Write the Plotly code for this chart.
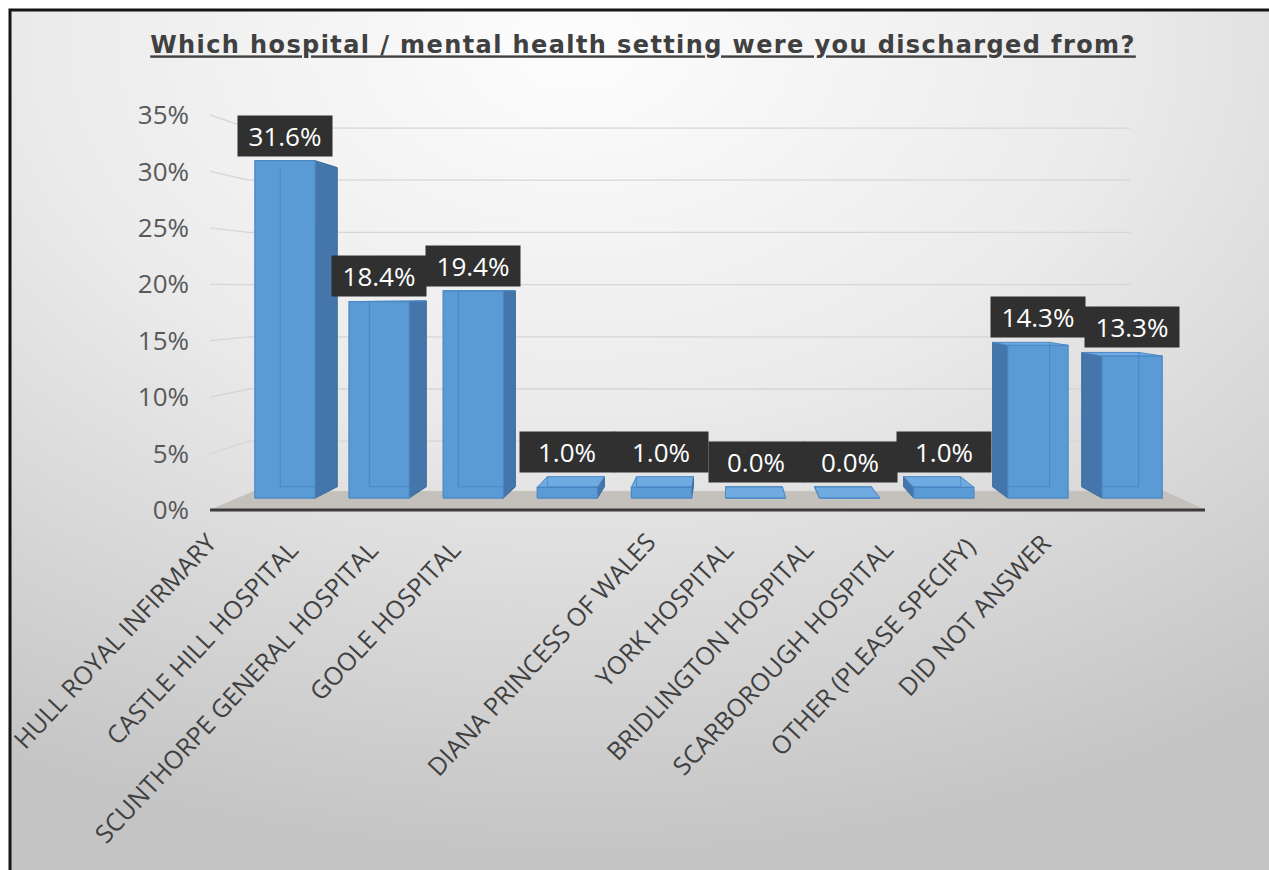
import base64
import plotly.graph_objects as go

# ---------------- data ----------------
categories = [
    "HULL ROYAL INFIRMARY", "CASTLE HILL HOSPITAL", "SCUNTHORPE GENERAL HOSPITAL",
    "GOOLE HOSPITAL", "DIANA PRINCESS OF WALES", "YORK HOSPITAL",
    "BRIDLINGTON HOSPITAL", "SCARBOROUGH HOSPITAL", "OTHER (PLEASE SPECIFY)",
    "DID NOT ANSWER",
]
values = [31.6, 18.4, 19.4, 1.0, 1.0, 0.0, 0.0, 1.0, 14.3, 13.3]
y_ticks = [0, 5, 10, 15, 20, 25, 30, 35]
title_text = "Which hospital / mental health setting were you discharged from?"

# ---------------- layout / style ----------------
W, H = 1269, 870
L, R, T, B = 210, 64, 100, 350
PW, PH = W - L - R, H - T - B
XR = [-0.5, 9.5]
PXU = PW / (XR[1] - XR[0])
PYU = 11.286
YR = [-(H - B - 510) / PYU, (510 - T) / PYU]

# pseudo 3D projection parameters
VX, VY = 4.69, 19.6      # vanishing point (data units)
D1, D2 = 0.054, 0.105    # bar front/back depth
DF = 0.085               # floor depth
DW = 0.075               # back wall depth (gridlines)
GX_END = 8.75            # right end of gridlines
BW = 0.64                # bar width

FRONT = "#5b9bd5"
SIDE = "#4576ab"
TOP = "#6fabe0"
EDGE = "#4a88c6"

# category label end points (pixel positions of the text end, as in the picture)
LABEL_END_PX = [217, 300, 380, 462, 657, 735, 815, 895, 977, 1053]
LABEL_TOP_PX = [533, 540, 540, 540, 533, 540, 540, 540, 537, 533]
LABEL_ANGLE = -47


def proj(x, y, d):
    return x + d * (VX - x), y + d * (VY - y)


fig = go.Figure()


def add_polys(polys, fill, line_color, width=1):
    xs, ys = [], []
    for p in polys:
        for (x, y) in p:
            xs.append(x)
            ys.append(y)
        xs.append(p[0][0]); ys.append(p[0][1])
        xs.append(None); ys.append(None)
    fig.add_trace(go.Scatter(x=xs, y=ys, mode="lines", fill="toself",
                             fillcolor=fill, line=dict(color=line_color, width=width),
                             hoverinfo="skip", showlegend=False))


def add_lines(segs, color, width=1, opacity=1.0):
    xs, ys = [], []
    for s in segs:
        for (x, y) in s:
            xs.append(x); ys.append(y)
        xs.append(None); ys.append(None)
    fig.add_trace(go.Scatter(x=xs, y=ys, mode="lines", opacity=opacity,
                             line=dict(color=color, width=width),
                             hoverinfo="skip", showlegend=False))


# gridlines (front-left -> back wall -> right)
grid = []
for t in y_ticks[1:]:
    bx, by = proj(XR[0], t, DW)
    grid.append([(XR[0], t), (bx, by), (GX_END, by)])
add_lines(grid, "#d6d6d6", 1.3)

# floor
floor = [[proj(XR[0], 0, 0), proj(XR[1], 0, 0), proj(XR[1], 0, DF), proj(XR[0], 0, DF)]]
add_polys(floor, "#c4c0bb", "#c4c0bb", 0.5)

# bars
sides, tops, fronts, hidden = [], [], [], []
for i, v in enumerate(values):
    xl, xr = i - BW / 2, i + BW / 2
    if xr < VX:
        sides.append([proj(xr, 0, D1), proj(xr, 0, D2), proj(xr, v, D2), proj(xr, v, D1)])
        hidden.append([proj(xl, 0, D2), proj(xl, v, D2)])
    elif xl > VX:
        sides.append([proj(xl, 0, D1), proj(xl, 0, D2), proj(xl, v, D2), proj(xl, v, D1)])
        hidden.append([proj(xr, 0, D2), proj(xr, v, D2)])
    if v < VY:
        tops.append([proj(xl, v, D1), proj(xr, v, D1), proj(xr, v, D2), proj(xl, v, D2)])
    hidden.append([proj(xl, 0, D2), proj(xr, 0, D2)])
    fronts.append([proj(xl, 0, D1), proj(xr, 0, D1), proj(xr, v, D1), proj(xl, v, D1)])

add_polys(sides, SIDE, "#3d6a9c", 1)
add_polys(tops, TOP, EDGE, 1)
add_polys(fronts, FRONT, EDGE, 1.2)
add_lines(hidden, "#3f7cb8", 1, 0.6)

# floor front edge
add_lines([[proj(XR[0], 0, 0), proj(XR[1], 0, 0)]], "#3b3b3b", 3.2)

annotations = []
# value labels
for i, v in enumerate(values):
    cx, _ = proj(i, 0, D1)
    top_y = max(v + D1 * (VY - v), v + D2 * (VY - v))
    annotations.append(dict(
        x=cx, y=top_y, xref="x", yref="y", text=f"{v:.1f}%", showarrow=False,
        xanchor="center", yanchor="bottom", yshift=4,
        bgcolor="#303030", width=90, height=36, borderpad=2,
        font=dict(family="Open Sans", size=26, color="white"),
    ))

# category labels (paper coordinates so they may sit below the plot area)
for i, c in enumerate(categories):
    annotations.append(dict(
        x=(LABEL_END_PX[i] + 8 - L) / PW, y=1 - (LABEL_TOP_PX[i] - 10 - T) / PH,
        xref="paper", yref="paper", text=c, showarrow=False, textangle=LABEL_ANGLE,
        xanchor="right", yanchor="top",
        font=dict(family="Open Sans", size=25, color="#404040"),
    ))

# background (gradient + frame)
svg = (
    f'<svg xmlns="http://www.w3.org/2000/svg" width="{W}" height="{H}" '
    f'viewBox="0 0 {W} {H}" preserveAspectRatio="none">'
    '<defs><radialGradient id="g" cx="0.45" cy="0.04" r="0.95">'
    '<stop offset="0" stop-color="#fdfdfd"/>'
    '<stop offset="0.45" stop-color="#ebebeb"/>'
    '<stop offset="1" stop-color="#c4c4c4"/>'
    '</radialGradient></defs>'
    f'<rect x="0" y="0" width="{W}" height="{H}" fill="#ffffff"/>'
    f'<rect x="10" y="10" width="{W - 10}" height="{H - 10}" fill="url(#g)"/>'
    f'<path d="M10 {H} V10 H{W}" stroke="#151515" stroke-width="3" fill="none"/>'
    '</svg>'
)
src = "data:image/svg+xml;base64," + base64.b64encode(svg.encode()).decode()

fig.update_layout(
    width=W, height=H,
    margin=dict(l=L, r=R, t=T, b=B, pad=0),
    paper_bgcolor="white", plot_bgcolor="rgba(0,0,0,0)",
    showlegend=False,
    title=dict(
        text=f'<span style="text-decoration:underline;letter-spacing:1.4px"><b>{title_text}</b></span>',
        x=643 / W, xanchor="center", xref="container",
        y=1 - 45 / H, yanchor="middle", yref="container",
        font=dict(family="DejaVu Sans", size=24, color="#404040"),
    ),
    xaxis=dict(range=XR, visible=False, fixedrange=True),
    yaxis=dict(range=YR, tickvals=y_ticks, ticktext=[f"{t}%" for t in y_ticks],
               showgrid=False, zeroline=False, showline=False, ticks="",
               ticklabelstandoff=20,
               tickfont=dict(family="Open Sans", size=26, color="#595959"),
               fixedrange=True),
    annotations=annotations,
    images=[dict(source=src, xref="paper", yref="paper",
                 x=-L / PW, y=1 + T / PH, sizex=W / PW, sizey=H / PH,
                 xanchor="left", yanchor="top", sizing="stretch", layer="below")],
)

fig.write_html("out.html")
